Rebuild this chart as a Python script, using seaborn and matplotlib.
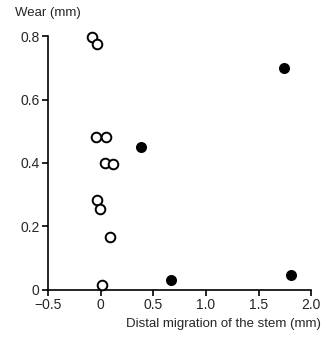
import numpy as np
import pandas as pd
import seaborn as sns
import matplotlib.pyplot as plt

# %% data

open_x = [-0.085, -0.035, -0.045, 0.05, 0.04, 0.12, -0.035, -0.01, 0.09, 0.01]
open_y = [0.796, 0.775, 0.482, 0.482, 0.401, 0.398, 0.284, 0.255, 0.167, 0.016]

filled_x = [0.38, 1.74, 0.665, 1.81]
filled_y = [0.45, 0.70, 0.03, 0.046]

xticks = [-0.5, 0, 0.5, 1.0, 1.5, 2.0]
xtick_labels = ["\u22120.5", "0", "0.5", "1.0", "1.5", "2.0"]
yticks = [0, 0.2, 0.4, 0.6, 0.8]
ytick_labels = ["0", "0.2", "0.4", "0.6", "0.8"]

df_open = pd.DataFrame({"migration": open_x, "wear": open_y})
df_filled = pd.DataFrame({"migration": filled_x, "wear": filled_y})

# %% plot

sns.set_style("ticks")
plt.rcParams['font.family'] = ['Liberation Sans', 'DejaVu Sans']

fig = plt.figure(figsize=(3.31, 3.38), dpi=100)
ax = fig.add_axes([0.145, 0.143, 0.795, 0.75])

sns.scatterplot(x="migration", y="wear", data=df_open, ax=ax,
                facecolor="white", edgecolor="black", linewidth=1.4,
                s=48, zorder=3, clip_on=False)
sns.scatterplot(x="migration", y="wear", data=df_filled, ax=ax,
                color="black", edgecolor="black", linewidth=1.0,
                s=48, zorder=3, clip_on=False)

ax.set_xlim(-0.5, 2.0)
ax.set_ylim(0, 0.8)
ax.set_xticks(xticks)
ax.set_xticklabels(xtick_labels)
ax.set_yticks(yticks)
ax.set_yticklabels(ytick_labels)
ax.tick_params(labelsize=10, length=4, width=1.2, color="black", pad=2)
for s in ["left", "bottom"]:
    ax.spines[s].set_linewidth(1.2)
    ax.spines[s].set_color("black")
sns.despine(ax=ax)

ax.set_xlabel("")
ax.set_ylabel("")
fig.text(0.97, 0.025, "Distal migration of the stem (mm)", ha="right",
         va="bottom", fontsize=9.5)
fig.text(0.045, 0.945, "Wear (mm)", ha="left", va="bottom", fontsize=9.5)

fig.savefig("out.png", dpi=100)
